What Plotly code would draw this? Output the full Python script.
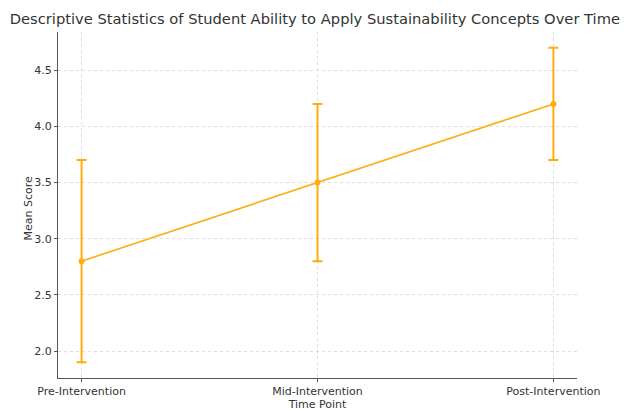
import plotly.graph_objects as go

time_points = ["Pre-Intervention", "Mid-Intervention", "Post-Intervention"]
mean_scores = [2.8, 3.5, 4.2]
std_devs = [0.9, 0.7, 0.5]
y_ticks = [2.0, 2.5, 3.0, 3.5, 4.0, 4.5]

color = "#FFAD0D"
font = "DejaVu Sans"

fig = go.Figure()
fig.add_trace(go.Scatter(
    x=list(range(len(time_points))), y=mean_scores,
    mode="lines+markers",
    line=dict(color=color, width=1.6),
    marker=dict(color=color, size=6),
    error_y=dict(type="data", array=std_devs, visible=True, color=color, thickness=2, width=5),
    showlegend=False,
))

fig.update_layout(
    width=620, height=403,
    margin=dict(l=50, r=51, t=24, b=33),
    plot_bgcolor="white", paper_bgcolor="white",
    font=dict(family=font, size=11, color="#333333"),
    title=dict(text="Descriptive Statistics of Student Ability to Apply Sustainability Concepts Over Time",
               x=0.495, xanchor="center", y=0.973, yanchor="middle",
               font=dict(family=font, size=14.7, color="#333333")),
    annotations=[dict(text="Mean Score", xref="paper", yref="paper", x=0, y=0.49,
                      xshift=-30, xanchor="center", yanchor="middle", textangle=-90,
                      showarrow=False, font=dict(family=font, size=11, color="#333333"))],
)
fig.update_xaxes(
    range=[-0.1, 2.1], tickvals=[0, 1, 2], ticktext=time_points,
    showline=True, linecolor="#555555", linewidth=1.2,
    ticks="outside", ticklen=3, tickcolor="#555555",
    showgrid=True, gridcolor="#dddddd", griddash="dot", gridwidth=1,
    zeroline=False, automargin=False,
    title=dict(text="Time Point", font=dict(size=11), standoff=2),
)
fig.update_yaxes(
    range=[1.76, 4.84], tickvals=y_ticks, ticktext=[f"{v:.1f}" for v in y_ticks],
    showline=True, linecolor="#555555", linewidth=1.2,
    ticks="outside", ticklen=3, tickcolor="#555555",
    showgrid=True, gridcolor="#dddddd", griddash="dot", gridwidth=1,
    zeroline=False, automargin=False,
)

fig.write_html("out.html")
